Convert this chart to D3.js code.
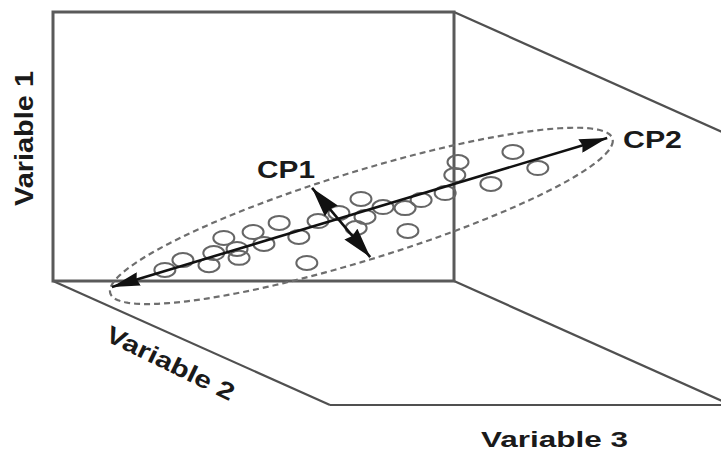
<!DOCTYPE html>
<html>
<head>
<meta charset="utf-8">
<script src="https://cdn.jsdelivr.net/npm/d3@7"></script>
<style>
  html, body { margin: 0; padding: 0; background: #ffffff; }
  svg { display: block; }
  text { font-family: "Liberation Sans", Arial, sans-serif; font-weight: bold; fill: #1a1a1a; }
</style>
</head>
<body>
<svg id="chart" width="721" height="452"></svg>
<script>
// ---- data (in front-face units: Variable 2 horizontal 0-100, Variable 1 vertical 0-100) ----
const pointV2 = [27.9, 32.4, 38.9, 40.1, 42.6, 45.9, 46.4, 49.9, 52.6, 56.4, 61.3, 63.3, 66.1, 71.3,
                 75.6, 76.8, 77.8, 82.3, 87.8, 88.5, 91.8, 97.8, 100.2, 101.0, 109.2, 114.7, 120.9];
const pointV1 = [4.1, 7.8, 5.9, 10.4, 16.0, 11.9, 8.6, 18.2, 13.8, 21.6, 16.4, 6.7, 22.3, 25.3,
                 19.7, 30.5, 23.8, 27.5, 27.1, 18.6, 30.1, 32.7, 39.4, 44.2, 36.1, 48.0, 42.0];
// principal components: [start V2, start V1, end V2, end V1]
const cp2Axis = [14.7, -2.2, 138.2, 53.2];
const cp1Axis = [64.6, 34.6, 79.1, 8.9];
// confidence ellipse: centre and conjugate semi-axes
const ellipseCenter = [76.9, 24.2];
const ellipseAxisA = [62.7, 27.9];
const ellipseAxisB = [0, -17.2];
const axisLabels = ["Variable 1", "Variable 2", "Variable 3"];
const componentLabels = ["CP1", "CP2"];

// ---- layout ----
const svg = d3.select("#chart");
const x = d3.scaleLinear().domain([0, 100]).range([53, 454]);
const y = d3.scaleLinear().domain([0, 100]).range([281, 12]);
const depth = [277, 124]; // oblique projection of Variable 3 axis

const boxColor = "#505050";
const g = svg.append("g");

// back/depth lines
const diag = [
  [[x(0), y(0)], [x(0) + depth[0], y(0) + depth[1]]],
  [[x(100), y(0)], [x(100) + depth[0], y(0) + depth[1]]],
  [[x(100), y(100)], [x(100) + depth[0], y(100) + depth[1]]],
  [[x(0) + depth[0], y(0) + depth[1]], [x(100) + depth[0], y(0) + depth[1]]]
];
g.selectAll("line.diag").data(diag).join("line")
  .attr("class", "diag")
  .attr("x1", d => d[0][0]).attr("y1", d => d[0][1])
  .attr("x2", d => d[1][0]).attr("y2", d => d[1][1])
  .attr("stroke", boxColor).attr("stroke-width", 2.2);

// front face
g.append("rect")
  .attr("x", x(0)).attr("y", y(100))
  .attr("width", x(100) - x(0)).attr("height", y(0) - y(100))
  .attr("fill", "none").attr("stroke", "#5a5a5a").attr("stroke-width", 3);

// ellipse
const ts = d3.range(0, 361, 2).map(a => a * Math.PI / 180);
const ellLine = d3.line()
  .x(t => x(ellipseCenter[0] + ellipseAxisA[0] * Math.cos(t) + ellipseAxisB[0] * Math.sin(t)))
  .y(t => y(ellipseCenter[1] + ellipseAxisA[1] * Math.cos(t) + ellipseAxisB[1] * Math.sin(t)))
  .curve(d3.curveLinearClosed);
g.append("path")
  .attr("d", ellLine(ts))
  .attr("fill", "none").attr("stroke", "#6e6e6e")
  .attr("stroke-width", 2.2).attr("stroke-dasharray", "6,4");

// points
const pts = pointV2.map((v, i) => [v, pointV1[i]]);
g.selectAll("ellipse.pt").data(pts).join("ellipse")
  .attr("class", "pt")
  .attr("cx", d => x(d[0])).attr("cy", d => y(d[1]))
  .attr("rx", 10.5).attr("ry", 7)
  .attr("fill", "none").attr("stroke", "#666").attr("stroke-width", 2);

// arrow markers
const defs = svg.append("defs");
function marker(id, len, half) {
  defs.append("marker").attr("id", id)
    .attr("markerUnits", "userSpaceOnUse")
    .attr("viewBox", `0 ${-half} ${len} ${2 * half}`)
    .attr("refX", len).attr("refY", 0)
    .attr("markerWidth", len).attr("markerHeight", 2 * half)
    .attr("orient", "auto-start-reverse")
    .append("path").attr("d", `M0,${-half}L${len},0L0,${half}L${len * 0.08},0Z`).attr("fill", "#111");
}
marker("headCP2", 28, 7);
marker("headCP1", 30, 8.5);

g.append("line")
  .attr("x1", x(cp2Axis[0])).attr("y1", y(cp2Axis[1]))
  .attr("x2", x(cp2Axis[2])).attr("y2", y(cp2Axis[3]))
  .attr("stroke", "#111").attr("stroke-width", 2.6)
  .attr("marker-start", "url(#headCP2)").attr("marker-end", "url(#headCP2)");
g.append("line")
  .attr("x1", x(cp1Axis[0])).attr("y1", y(cp1Axis[1]))
  .attr("x2", x(cp1Axis[2])).attr("y2", y(cp1Axis[3]))
  .attr("stroke", "#111").attr("stroke-width", 2.6)
  .attr("marker-start", "url(#headCP1)").attr("marker-end", "url(#headCP1)");

// labels
g.append("text").text(componentLabels[0])
  .attr("x", 257).attr("y", 178).attr("font-size", 24)
  .attr("textLength", 58).attr("lengthAdjust", "spacingAndGlyphs");
g.append("text").text(componentLabels[1])
  .attr("x", 623).attr("y", 148).attr("font-size", 23)
  .attr("textLength", 59).attr("lengthAdjust", "spacingAndGlyphs");

g.append("text").text(axisLabels[0])
  .attr("transform", "translate(33,206) rotate(-90)").attr("font-size", 25)
  .attr("textLength", 135).attr("lengthAdjust", "spacingAndGlyphs");
g.append("text").text(axisLabels[1])
  .attr("transform", "translate(104,340) rotate(26)").attr("font-size", 24)
  .attr("textLength", 140).attr("lengthAdjust", "spacingAndGlyphs");
g.append("text").text(axisLabels[2])
  .attr("x", 481).attr("y", 447).attr("font-size", 22)
  .attr("textLength", 147).attr("lengthAdjust", "spacingAndGlyphs");
</script>
</body>
</html>
